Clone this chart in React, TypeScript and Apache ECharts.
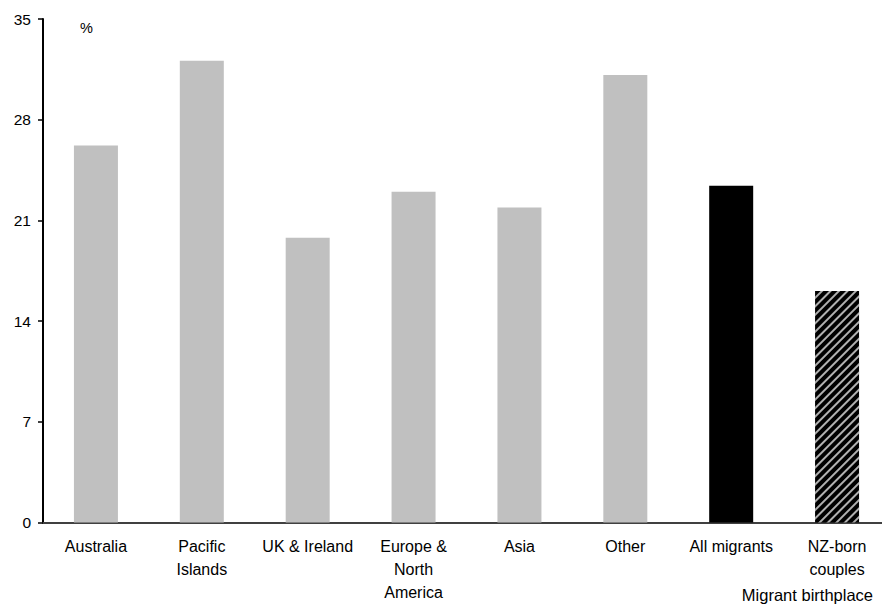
import React, { useEffect, useRef } from "react";
import * as echarts from "echarts";

const categories = [
  "Australia",
  "Pacific\nIslands",
  "UK & Ireland",
  "Europe &\nNorth\nAmerica",
  "Asia",
  "Other",
  "All migrants",
  "NZ-born\ncouples",
];
const values = [26.2, 32.1, 19.8, 23.0, 21.9, 31.1, 23.4, 16.1];
const yTicks = [0, 7, 14, 21, 28, 35];
const unitLabel = "%";
const xAxisTitle = "Migrant birthplace";

export default function App() {
  const ref = useRef<HTMLDivElement>(null);
  useEffect(() => {
    if (!ref.current) return;
    const chart = echarts.init(ref.current, null, { renderer: "svg" });
    const font = "'Liberation Sans', Arial, sans-serif";
    const data = values.map((v, i) => {
      if (i === values.length - 1) {
        return {
          value: v,
          itemStyle: {
            color: "#000",
            decal: {
              symbol: "rect",
              color: "#b0b0b0",
              backgroundColor: "#000",
              dashArrayX: [1, 0],
              dashArrayY: [1.8, 3.2],
              rotation: -Math.PI / 4,
              symbolSize: 1,
            },
          },
        };
      }
      if (i === values.length - 2) {
        return { value: v, itemStyle: { color: "#000" } };
      }
      return { value: v, itemStyle: { color: "#c0c0c0" } };
    });
    chart.setOption({
      animation: false,
      grid: { left: 43, right: 0, top: 19, bottom: 83.5, containLabel: false },
      xAxis: {
        type: "category",
        data: categories,
        axisLine: { lineStyle: { color: "#404040", width: 2 } },
        axisTick: { show: false },
        axisLabel: {
          interval: 0,
          margin: 12,
          fontSize: 16,
          lineHeight: 23,
          color: "#000",
          fontFamily: font,
          align: "center",
        },
      },
      yAxis: {
        type: "value",
        min: yTicks[0],
        max: yTicks[yTicks.length - 1],
        interval: 7,
        splitLine: { show: false },
        axisLine: { show: true, lineStyle: { color: "#000", width: 2 } },
        axisTick: { show: true, length: 5, lineStyle: { color: "#000", width: 1.5 } },
        axisLabel: { margin: 12, fontSize: 15.5, color: "#000", fontFamily: font },
      },
      graphic: [
        {
          type: "text",
          left: 80,
          top: 20,
          style: { text: unitLabel, fontSize: 14.5, fill: "#000", fontFamily: font },
        },
        {
          type: "text",
          right: 17,
          top: 586,
          style: { text: xAxisTitle, fontSize: 16.5, fill: "#000", fontFamily: font },
        },
      ],
      series: [
        {
          type: "bar",
          data,
          barWidth: 44,
        },
      ],
    });
    return () => chart.dispose();
  }, []);
  return (
    <div style={{ width: 882, height: 606, position: "absolute", left: 0, top: 0, overflow: "hidden" }}>
      <div ref={ref} style={{ width: 890, height: 606 }} />
    </div>
  );
}
